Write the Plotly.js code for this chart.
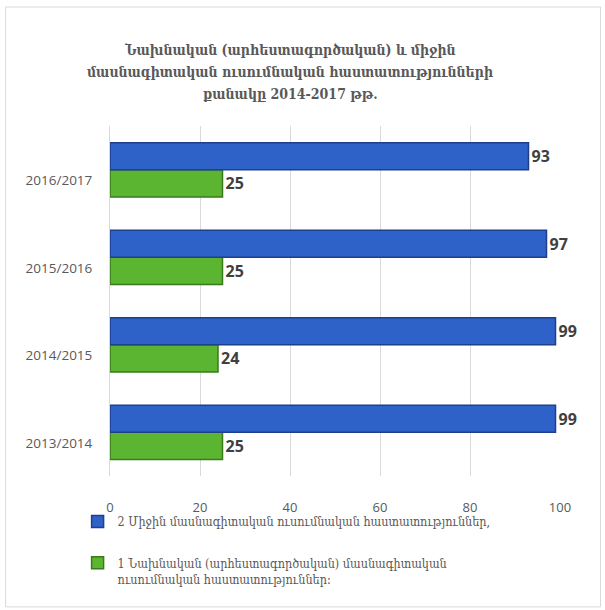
<!DOCTYPE html>
<html>
<head>
<meta charset="utf-8">
<script src="https://cdn.plot.ly/plotly-3.0.1.min.js"></script>
<style>html,body{margin:0;padding:0;background:#fff;}#chart{width:605px;height:610px;}</style>
</head>
<body>
<div id="chart"></div>
<script>
const categories = ["2013/2014", "2014/2015", "2015/2016", "2016/2017"];
const secondaryValues = [99, 99, 97, 93];
const primaryValues = [25, 24, 25, 25];
const secondaryName = "2 Միջին մասնագիտական ուսումնական հաստատություններ,";
const primaryName = "1 Նախնական (արհեստագործական) մասնագիտական<br>ուսումնական հաստատություններ։";
const titleLines = [
  "Նախնական (արհեստագործական) և միջին",
  "մասնագիտական ուսումնական հաստատությունների",
  "քանակը 2014-2017 թթ."
];
const xTicks = [0, 20, 40, 60, 80, 100];

const labelFont = {family: "Open Sans, DejaVu Sans, sans-serif", size: 16, color: "#404040", weight: 700};

const traces = [
  {
    type: "bar", orientation: "h", name: primaryName,
    y: categories, x: primaryValues,
    text: primaryValues.map(String), textposition: "outside", cliponaxis: false,
    textfont: labelFont,
    marker: {color: "#5cb531", line: {color: "#3a7a1c", width: 1.5}},
    legendgroup: "g1", legendrank: 2, hoverinfo: "x+y"
  },
  {
    type: "bar", orientation: "h", name: secondaryName,
    y: categories, x: secondaryValues,
    text: secondaryValues.map(String), textposition: "outside", cliponaxis: false,
    textfont: labelFont,
    marker: {color: "#2f62c9", line: {color: "#1d3f8c", width: 1.5}},
    legendgroup: "g2", legendrank: 1, hoverinfo: "x+y"
  }
];

const titleYs = [1.217, 1.154, 1.091];
const titleFont = {family: "DejaVu Serif Condensed, DejaVu Serif, serif", size: 14, color: "#595959", weight: 700};

const layout = {
  width: 605, height: 610,
  paper_bgcolor: "#ffffff", plot_bgcolor: "#ffffff",
  margin: {l: 110, r: 45, t: 126, b: 134},
  barmode: "group", bargap: 0.38, bargroupgap: 0,
  annotations: titleLines.map((t, i) => ({
    text: t, xref: "paper", yref: "paper", x: 0.4, y: titleYs[i],
    xanchor: "center", yanchor: "middle", showarrow: false, font: titleFont
  })),
  xaxis: {
    range: [0, 100], tickvals: xTicks, ticktext: xTicks.map(String),
    showgrid: true, gridcolor: "#d9d9d9", gridwidth: 1,
    zeroline: false, showline: false, ticks: "",
    ticklabelstandoff: 22,
    tickfont: {family: "Open Sans, sans-serif", size: 13, color: "#595959"},
    fixedrange: true
  },
  yaxis: {
    type: "category", categoryorder: "array", categoryarray: categories,
    showgrid: false, zeroline: false, showline: true, linecolor: "#d9d9d9", linewidth: 1,
    ticks: "", ticklabelstandoff: 14, ticklabelshift: 11,
    tickfont: {family: "Open Sans, sans-serif", size: 13.5, color: "#595959"},
    fixedrange: true
  },
  showlegend: true,
  legend: {
    orientation: "v", traceorder: "grouped", tracegroupgap: 22, valign: "top",
    x: -0.072, xanchor: "left", y: -0.088, yanchor: "top",
    font: {family: "DejaVu Serif Condensed, DejaVu Serif, serif", size: 12.5, color: "#595959"},
    itemwidth: 30, bgcolor: "rgba(0,0,0,0)"
  },
  shapes: [
    {type: "rect", xref: "paper", yref: "paper", x0: -0.232, x1: 1.09, y0: -0.374, y1: 1.34,
     line: {color: "#d9d9d9", width: 1}, fillcolor: "rgba(0,0,0,0)", layer: "below"}
  ]
};

Plotly.newPlot("chart", traces, layout, {displayModeBar: false, staticPlot: true});
</script>
</body>
</html>
